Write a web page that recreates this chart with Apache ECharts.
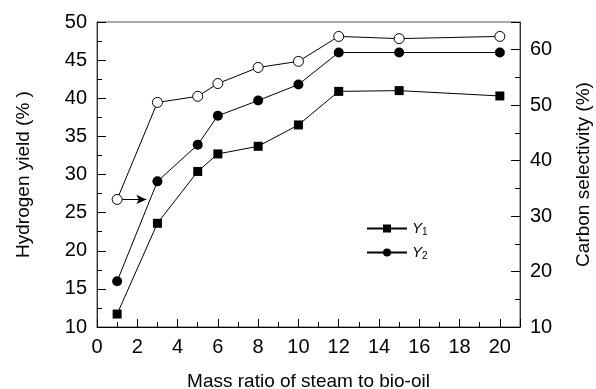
<!DOCTYPE html>
<html><head><meta charset="utf-8">
<script src="https://cdn.jsdelivr.net/npm/echarts@6/dist/echarts.min.js"></script>
<style>html,body{margin:0;padding:0;background:#fff}#c{width:596px;height:389px}</style>
</head><body><div id="c"></div>
<script>
var ratios = [1, 3, 5, 6, 8, 10, 12, 15, 20];
var y1Values = [11.7, 23.6, 30.4, 32.7, 33.7, 36.5, 40.9, 41.0, 40.3];
var y2Values = [16.0, 29.1, 33.9, 37.7, 39.7, 41.8, 46.0, 46.0, 46.0];
var carbonSel = [33.0, 50.5, 51.6, 53.9, 56.8, 57.9, 62.4, 62.0, 62.4];
var arrowFrom = [1.25, 33.0];
var arrowTo = [2.45, 33.0];

function pairs(xs, ys){ return xs.map(function(x,i){ return [x, ys[i]]; }); }
var FONT = '"Liberation Sans", Arial, sans-serif';
var chart = echarts.init(document.getElementById('c'), null, {renderer:'canvas'});
var lbl = {color:'#000', fontSize:20, fontFamily:FONT};
chart.setOption({
  animation:false,
  backgroundColor:'#fff',
  grid:{left:97, right:76, top:22, bottom:62, outerBoundsMode:'none', containLabel:false,
        show:true, borderColor:'#555', borderWidth:1},
  legend:{
    orient:'vertical', left:361, top:216, itemWidth:40, itemHeight:10, itemGap:8,
    data:['Y1','Y2'],
    textStyle:{color:'#000', fontFamily:FONT,
      rich:{i:{fontStyle:'italic', fontSize:15, fontFamily:FONT, color:'#000'},
            s:{fontSize:10, fontFamily:FONT, color:'#000', padding:[7,0,0,0]}}},
    formatter:function(n){ return '{i|Y}{s|' + n.slice(1) + '}'; }
  },
  xAxis:{
    type:'value', min:0, max:21, interval:2,
    name:'Mass ratio of steam to bio-oil', nameLocation:'middle', nameGap:45,
    nameTextStyle:{color:'#000', fontSize:19, fontFamily:FONT},
    axisLine:{lineStyle:{color:'#000', width:1}},
    axisTick:{inside:true, length:8, lineStyle:{color:'#000'}},
    minorTick:{show:true, splitNumber:2, length:5, lineStyle:{color:'#000'}},
    axisLabel:Object.assign({margin:10, showMaxLabel:false}, lbl),
    splitLine:{show:false}
  },
  yAxis:[{
    type:'value', min:10, max:50, interval:5,
    name:'Hydrogen yield (% )', nameLocation:'middle', nameGap:64,
    nameTextStyle:{color:'#000', fontSize:19, fontFamily:FONT},
    axisLine:{show:true, lineStyle:{color:'#333', width:1}},
    axisTick:{inside:true, length:9, lineStyle:{color:'#000'}},
    minorTick:{show:true, splitNumber:2, length:5, lineStyle:{color:'#000'}},
    axisLabel:Object.assign({margin:10}, lbl),
    splitLine:{show:false}
  },{
    type:'value', min:10, max:65, interval:10, position:'right',
    name:'Carbon selectivity (%)', nameLocation:'middle', nameGap:54,
    nameTextStyle:{color:'#000', fontSize:19, fontFamily:FONT},
    axisLine:{show:true, lineStyle:{color:'#333', width:1}},
    axisTick:{inside:true, length:9, lineStyle:{color:'#000'}},
    minorTick:{show:true, splitNumber:2, length:5, lineStyle:{color:'#000'}},
    axisLabel:Object.assign({margin:10, showMaxLabel:false}, lbl),
    splitLine:{show:false}
  }],
  series:[{
    name:'Y1', type:'line', data:pairs(ratios, y1Values),
    symbol:'rect', symbolSize:9, itemStyle:{color:'#000'},
    lineStyle:{color:'#000', width:1}
  },{
    name:'Y2', type:'line', data:pairs(ratios, y2Values),
    symbol:'circle', symbolSize:10, itemStyle:{color:'#000'},
    lineStyle:{color:'#000', width:1}
  },{
    name:'Carbon', type:'line', yAxisIndex:1, data:pairs(ratios, carbonSel),
    symbol:'circle', symbolSize:10, showAllSymbol:true,
    itemStyle:{color:'#fff', borderColor:'#000', borderWidth:1},
    lineStyle:{color:'#000', width:1},
    markLine:{silent:true, symbol:['none','arrow'], symbolSize:[7,10],
      label:{show:false}, lineStyle:{color:'#000', width:1, type:'solid'},
      data:[[{coord:arrowFrom},{coord:arrowTo}]]}
  }]
});
</script></body></html>
